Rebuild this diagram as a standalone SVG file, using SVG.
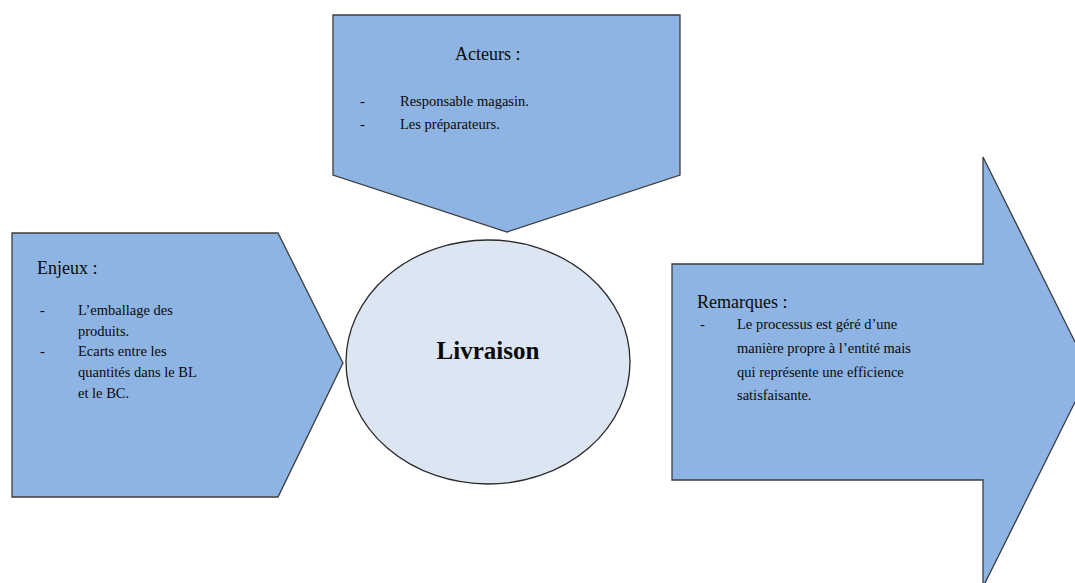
<svg xmlns="http://www.w3.org/2000/svg" width="1075" height="583" viewBox="0 0 1075 583">
  <style>
    .shape { fill: #8EB4E3; stroke: #3C3C3C; stroke-width: 1.3; }
    .hub { fill: #DCE6F2; stroke: #2A2A2A; stroke-width: 1.3; }
    text { font-family: "Liberation Serif", "Times New Roman", serif; fill: #0A0A0A; }
    .title { font-size: 18px; }
    .item { font-size: 14.5px; }
    .main { font-size: 25px; font-weight: bold; }
  </style>
  <rect width="1075" height="583" fill="#FFFFFF"/>

  <!-- Actors: pentagon pointing down -->
  <g id="acteurs">
    <polygon class="shape" points="333,15 680,15 680,175 507,232 333,175"/>
    <text class="title" x="455" y="60">Acteurs :</text>
    <text class="item" x="360" y="106">-</text>
    <text class="item" x="400" y="106">Responsable magasin.</text>
    <text class="item" x="360" y="129">-</text>
    <text class="item" x="400" y="129">Les préparateurs.</text>
  </g>

  <!-- Stakes: pentagon pointing right -->
  <g id="enjeux">
    <polygon class="shape" points="12,233 278,233 343,363 278,497 12,497"/>
    <text class="title" x="37" y="274">Enjeux :</text>
    <text class="item" x="40" y="315">-</text>
    <text class="item" x="78" y="315">L’emballage des</text>
    <text class="item" x="78" y="336">produits.</text>
    <text class="item" x="40" y="356">-</text>
    <text class="item" x="78" y="356">Ecarts entre les</text>
    <text class="item" x="78" y="377">quantités dans le BL</text>
    <text class="item" x="78" y="398">et le BC.</text>
  </g>

  <!-- Central process -->
  <g id="livraison">
    <ellipse class="hub" cx="488" cy="362" rx="142" ry="122"/>
    <text class="main" x="488" y="359" text-anchor="middle">Livraison</text>
  </g>

  <!-- Remarks: block arrow pointing right -->
  <g id="remarques">
    <polygon class="shape" points="672,264 983,264 983,157 1090,372 983,587 983,480 672,480"/>
    <text class="title" x="697" y="308">Remarques :</text>
    <text class="item" x="700" y="329">-</text>
    <text class="item" x="737" y="329">Le processus est géré d’une</text>
    <text class="item" x="737" y="353">manière propre à l’entité mais</text>
    <text class="item" x="737" y="377">qui représente une efficience</text>
    <text class="item" x="737" y="400">satisfaisante.</text>
  </g>

  <g id="connectors"></g>
</svg>
